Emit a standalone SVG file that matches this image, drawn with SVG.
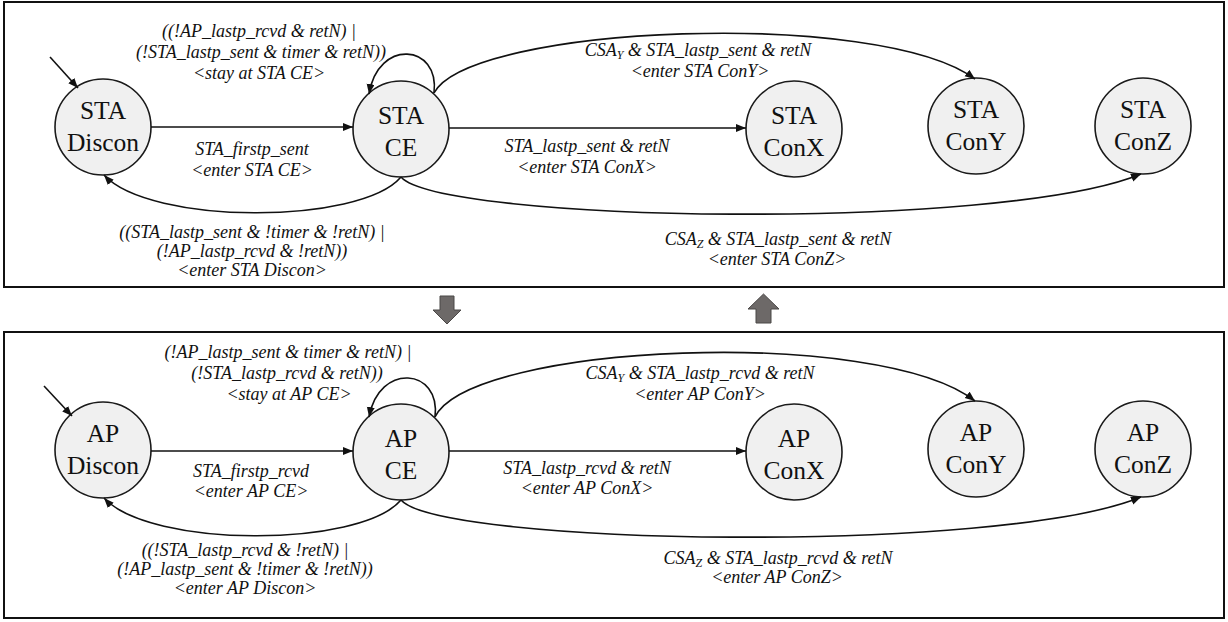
<svg xmlns="http://www.w3.org/2000/svg" width="1228" height="622" viewBox="0 0 1228 622">
<defs>
<marker id="ah" markerUnits="userSpaceOnUse" markerWidth="11" markerHeight="9" refX="10" refY="4" orient="auto">
<path d="M0,0 L10,4 L0,8 Z" fill="#111"/>
</marker>
<style>
.panel{fill:#fff;stroke:#111;stroke-width:2}
.node circle{fill:#f0f0f0;stroke:#1a1a1a;stroke-width:1.6}
.node text{font-family:"Liberation Serif","Times New Roman",serif;font-size:25.5px;fill:#111;text-anchor:middle}
.edge{fill:none;stroke:#111;stroke-width:1.6;marker-end:url(#ah)}
.lbl{font-family:"Liberation Serif","Times New Roman",serif;font-style:italic;font-size:18px;fill:#111;text-anchor:middle}
.sub{font-size:12px}
.big{fill:#6d6968;stroke:#4b4847;stroke-width:1}
</style>
</defs>
<rect class="panel" x="4" y="2" width="1220" height="285"/>
<rect class="panel" x="4" y="332" width="1220" height="286"/>

<g id="big-arrows">
<path class="big" d="M440,296 H454 V310 H461 L447,324 L433,310 H440 Z"/>
<path class="big" d="M763.5,294 L779,309 H771 V323 H756 V309 H748 Z"/>
</g>

<g id="sta-discon" class="node"><circle cx="103" cy="127" r="48"/><text x="103" y="119">STA</text><text x="103" y="151">Discon</text></g>
<g id="sta-ce" class="node"><circle cx="401" cy="129" r="48"/><text x="401" y="124">STA</text><text x="401" y="156">CE</text></g>
<g id="sta-conx" class="node"><circle cx="794" cy="129" r="48"/><text x="794" y="124">STA</text><text x="794" y="156">ConX</text></g>
<g id="sta-cony" class="node"><circle cx="976" cy="126" r="48"/><text x="976" y="118">STA</text><text x="976" y="150">ConY</text></g>
<g id="sta-conz" class="node"><circle cx="1143" cy="126" r="48"/><text x="1143" y="118">STA</text><text x="1143" y="150">ConZ</text></g>

<g id="ap-discon" class="node"><circle cx="103" cy="450" r="48"/><text x="103" y="442">AP</text><text x="103" y="474">Discon</text></g>
<g id="ap-ce" class="node"><circle cx="401" cy="452" r="48"/><text x="401" y="447">AP</text><text x="401" y="479">CE</text></g>
<g id="ap-conx" class="node"><circle cx="794" cy="452" r="48"/><text x="794" y="447">AP</text><text x="794" y="479">ConX</text></g>
<g id="ap-cony" class="node"><circle cx="976" cy="449" r="48"/><text x="976" y="441">AP</text><text x="976" y="473">ConY</text></g>
<g id="ap-conz" class="node"><circle cx="1143" cy="449" r="48"/><text x="1143" y="441">AP</text><text x="1143" y="473">ConZ</text></g>

<g id="connectors">
<path class="edge" d="M50,57 L78,88"/>
<path class="edge" d="M151,127 L353,127"/>
<path class="edge" d="M449,128 L746,128"/>
<path class="edge" d="M434,93 C440,44 378,38 369,94"/>
<path class="edge" d="M434,93 C470,25 880,8 975,79"/>
<path class="edge" d="M401,177 C440,222 1000,232 1141,174"/>
<path class="edge" d="M401,177 C360,225 150,225 104,175"/>
<path class="edge" d="M44,386 L72,416"/>
<path class="edge" d="M151,451 L353,451"/>
<path class="edge" d="M449,451 L746,451"/>
<path class="edge" d="M435,417 C441,368 379,362 369,417"/>
<path class="edge" d="M435,417 C471,343 880,326 975,401"/>
<path class="edge" d="M401,500 C440,545 1000,555 1141,497"/>
<path class="edge" d="M401,500 C360,548 150,548 104,498"/>
</g>

<g id="labels">
<text class="lbl" x="259" y="37">((!AP_lastp_rcvd &amp; retN) |</text>
<text class="lbl" x="261" y="58">(!STA_lastp_sent &amp; timer &amp; retN))</text>
<text class="lbl" x="259" y="79">&lt;stay at STA CE&gt;</text>
<text class="lbl" x="698" y="56">CSA<tspan class="sub" dy="3">Y</tspan><tspan dy="-3"> &amp; STA_lastp_sent &amp; retN</tspan></text>
<text class="lbl" x="700" y="77">&lt;enter STA ConY&gt;</text>
<text class="lbl" x="252" y="155">STA_firstp_sent</text>
<text class="lbl" x="252" y="176">&lt;enter STA CE&gt;</text>
<text class="lbl" x="587" y="152">STA_lastp_sent &amp; retN</text>
<text class="lbl" x="587" y="173">&lt;enter STA ConX&gt;</text>
<text class="lbl" x="252" y="238">((STA_lastp_sent &amp; !timer &amp; !retN) |</text>
<text class="lbl" x="252" y="257">(!AP_lastp_rcvd &amp; !retN))</text>
<text class="lbl" x="252" y="276">&lt;enter STA Discon&gt;</text>
<text class="lbl" x="778" y="245">CSA<tspan class="sub" dy="3">Z</tspan><tspan dy="-3"> &amp; STA_lastp_sent &amp; retN</tspan></text>
<text class="lbl" x="777" y="265">&lt;enter STA ConZ&gt;</text>

<text class="lbl" x="288" y="358">(!AP_lastp_sent &amp; timer &amp; retN) |</text>
<text class="lbl" x="287" y="379">(!STA_lastp_rcvd &amp; retN))</text>
<text class="lbl" x="289" y="400">&lt;stay at AP CE&gt;</text>
<text class="lbl" x="700" y="379">CSA<tspan class="sub" dy="3">Y</tspan><tspan dy="-3"> &amp; STA_lastp_rcvd &amp; retN</tspan></text>
<text class="lbl" x="700" y="400">&lt;enter AP ConY&gt;</text>
<text class="lbl" x="251" y="477">STA_firstp_rcvd</text>
<text class="lbl" x="251" y="497">&lt;enter AP CE&gt;</text>
<text class="lbl" x="587" y="474">STA_lastp_rcvd &amp; retN</text>
<text class="lbl" x="587" y="494">&lt;enter AP ConX&gt;</text>
<text class="lbl" x="245" y="556">((!STA_lastp_rcvd &amp; !retN) |</text>
<text class="lbl" x="245" y="575">(!AP_lastp_sent &amp; !timer &amp; !retN))</text>
<text class="lbl" x="245" y="594">&lt;enter AP Discon&gt;</text>
<text class="lbl" x="778" y="564">CSA<tspan class="sub" dy="3">Z</tspan><tspan dy="-3"> &amp; STA_lastp_rcvd &amp; retN</tspan></text>
<text class="lbl" x="777" y="583">&lt;enter AP ConZ&gt;</text>
</g>
</svg>
